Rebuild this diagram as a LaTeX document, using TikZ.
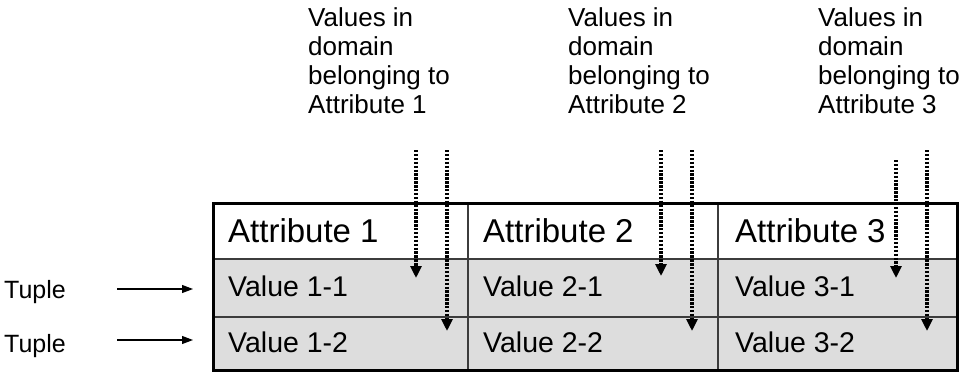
\documentclass[tikz,border=0pt]{standalone}
\usepackage{fontspec}
\setmainfont{Liberation Sans}
\usetikzlibrary{arrows.meta}
\definecolor{cellgray}{RGB}{221,221,221}
\definecolor{gridline}{RGB}{60,60,60}
\begin{document}
\begin{tikzpicture}[x=1pt,y=-1pt,
  toptxt/.style={anchor=base west,inner sep=0pt,font=\fontsize{26}{29}\selectfont,align=left},
  hdtxt/.style={anchor=base west,inner sep=0pt,font=\fontsize{33}{36}\selectfont},
  valtxt/.style={anchor=base west,inner sep=0pt,font=\fontsize{28.5}{32}\selectfont},
  tupletxt/.style={anchor=base west,inner sep=0pt,font=\fontsize{25}{28}\selectfont},
  dotarrow/.style={line width=3.2pt,dash pattern=on 2.4pt off 1.5pt,
    -{Triangle[width=11pt,length=12pt]}},
  solidarrow/.style={line width=1.1pt,-{Triangle[width=8pt,length=11pt]}}]
\useasboundingbox (0,0) rectangle (961,373);
% table backgrounds
\fill[white] (213,203) rectangle (957,259);
\fill[cellgray] (213,259) rectangle (957,370);
% inner grid lines
\draw[gridline,line width=1.4pt] (213,259) -- (957,259);
\draw[gridline,line width=1.4pt] (213,317) -- (957,317);
\draw[gridline,line width=1.4pt] (468,203) -- (468,370);
\draw[gridline,line width=1.4pt] (718,203) -- (718,370);
% outer border
\draw[black,line width=3pt] (213,203) rectangle (957,370);
% header and values
\node[hdtxt] (h1) at (228,242) {Attribute 1};
\node[hdtxt] (h2) at (483,242) {Attribute 2};
\node[hdtxt] (h3) at (735,242) {Attribute 3};
\node[valtxt] (v11) at (228,296) {Value 1-1};
\node[valtxt] (v21) at (483,296) {Value 2-1};
\node[valtxt] (v31) at (735,296) {Value 3-1};
\node[valtxt] (v12) at (228,352) {Value 1-2};
\node[valtxt] (v22) at (483,352) {Value 2-2};
\node[valtxt] (v32) at (735,352) {Value 3-2};
% top labels (anchored at the baseline of the last line)
\node[toptxt] (d1) at (308,113) {Values in\\domain\\belonging to\\Attribute 1};
\node[toptxt] (d2) at (568,113) {Values in\\domain\\belonging to\\Attribute 2};
\node[toptxt] (d3) at (818,113) {Values in\\domain\\belonging to\\Attribute 3};
% tuple labels
\node[tupletxt] (t1) at (4,298) {Tuple};
\node[tupletxt] (t2) at (4,352) {Tuple};
% arrow coordinates
\coordinate (a1s) at (416,150); \coordinate (a1e) at (416,278);
\coordinate (b1s) at (447,150); \coordinate (b1e) at (447,331);
\coordinate (a2s) at (661,150); \coordinate (a2e) at (661,276);
\coordinate (b2s) at (692,150); \coordinate (b2e) at (692,331);
\coordinate (a3s) at (896,160); \coordinate (a3e) at (896,278);
\coordinate (b3s) at (927,150); \coordinate (b3e) at (927,331);
\draw[dotarrow] (a1s) -- (a1e);
\draw[dotarrow] (b1s) -- (b1e);
\draw[dotarrow] (a2s) -- (a2e);
\draw[dotarrow] (b2s) -- (b2e);
\draw[dotarrow] (a3s) -- (a3e);
\draw[dotarrow] (b3s) -- (b3e);
\coordinate (ts1) at (117,289); \coordinate (te1) at (193,289);
\coordinate (ts2) at (117,340); \coordinate (te2) at (193,340);
\draw[solidarrow] (ts1) -- (te1);
\draw[solidarrow] (ts2) -- (te2);
\end{tikzpicture}
\end{document}
